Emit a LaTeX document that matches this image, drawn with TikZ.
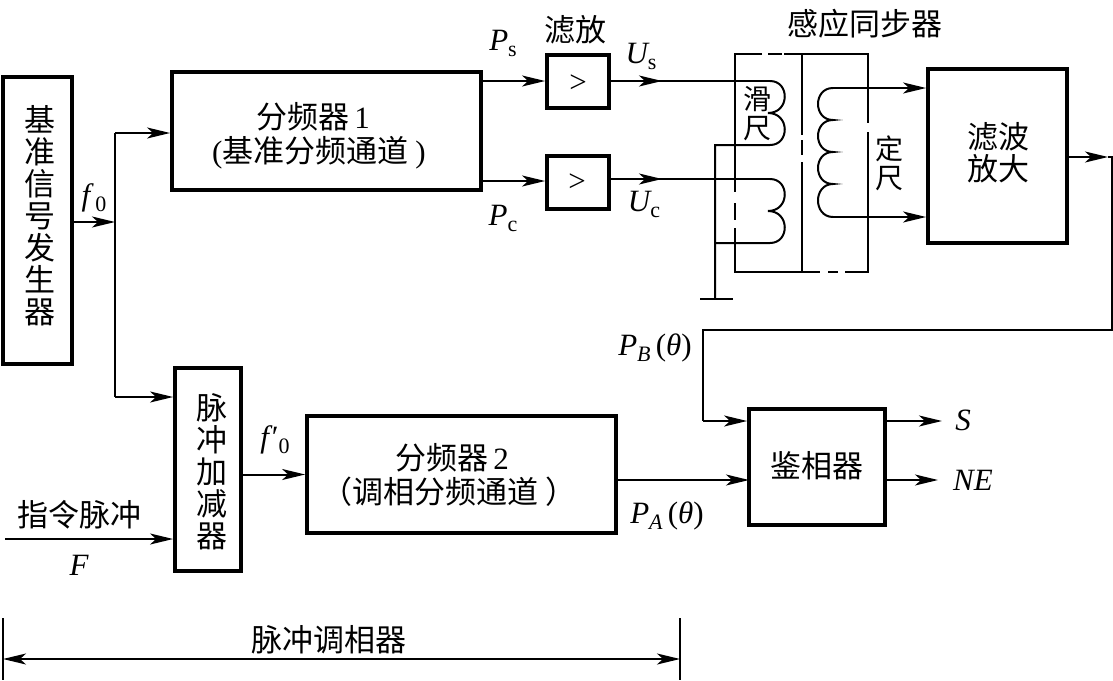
\documentclass[tikz,border=0pt]{standalone}
\usepackage{fontspec}
\setmainfont{Liberation Serif}
\newfontfamily\cjk{Noto Sans CJK SC}
\newcommand{\sbs}[1]{\raisebox{-6pt}{\fontsize{22}{22}\selectfont\upshape #1}}
\usetikzlibrary{arrows.meta,calc}
\tikzset{
  x=1pt,y=-1pt,
  wire/.style={line width=2pt,line join=miter},
  tipshape/.tip={Stealth[length=23pt,width=11pt,inset=6pt]},
  tip/.style={wire,-tipshape},
  block/.style={draw,line width=3.8pt,inner sep=0pt},
  cn/.style={inner sep=0pt,align=center,font=\cjk\fontsize{31}{32}\selectfont},
  lab/.style={inner sep=0pt,font=\fontsize{31}{31}\selectfont\itshape},
}
\begin{document}
\begin{tikzpicture}
\useasboundingbox (0,0) rectangle (1113,680);
% blocks
\node[block,minimum width=69pt,minimum height=287pt] (base) at (37.5,220.5) {};
\node[block,minimum width=309pt,minimum height=118pt] (div1) at (326.5,131) {};
\node[block,minimum width=62pt,minimum height=53pt] (amp1) at (578,81.5) {};
\node[block,minimum width=62pt,minimum height=53pt] (amp2) at (578,182.5) {};
\node[block,minimum width=139pt,minimum height=174pt] (filt) at (997.5,156) {};
\node[block,minimum width=66pt,minimum height=203pt] (adder) at (208,469.5) {};
\node[block,minimum width=309pt,minimum height=117pt] (div2) at (461.5,474.5) {};
\node[block,minimum width=136pt,minimum height=116pt] (pd) at (817,467) {};
% block texts
\node[cn] (tbase) at (40,216) {基\\准\\信\\号\\发\\生\\器};
\node[cn] (tdiv1a) at (313,117) {分频器\,{\rmfamily 1}};
\node[cn] (tdiv1b) at (319,153) {{\rmfamily (}基准分频通道 {\rmfamily )}};
\node[lab,font=\fontsize{31}{31}\selectfont\upshape] (tamp1) at (578,84) {>};
\node[lab,font=\fontsize{31}{31}\selectfont\upshape] (tamp2) at (577,183) {>};
\node[cn] (tfilt) at (998,153) {滤波\\放大};
\node[cn] (tadd) at (212,472) {脉\\冲\\加\\减\\器};
\node[cn] (tdiv2a) at (452,458) {分频器\,{\rmfamily 2}};
\node[cn] (tdiv2b) at (449,492) {（调相分频通道 ）};
\node[cn] (tpd) at (817,466) {鉴相器};
% helper coordinates
\coordinate (jn) at (115,222);
\coordinate (jtop) at (115,133);
\coordinate (jbot) at (115,397);
\coordinate (usend) at (770,81);
\coordinate (ucend) at (770,179);
\coordinate (usm) at (662,81);
\coordinate (ucm) at (662,179);
\coordinate (gnd) at (715,299);
\coordinate (gndl) at (700,299);
\coordinate (gndr) at (733,299);
\coordinate (g1) at (715,145);
\coordinate (g2) at (715,243);
\coordinate (c1) at (770,145);
\coordinate (c2) at (770,243);
\coordinate (st) at (833,88);
\coordinate (sb) at (833,217);
\coordinate (outa) at (1108,157);
\coordinate (outb) at (1112,157);
\coordinate (outc) at (1112,330);
\coordinate (outd) at (703,330);
\coordinate (oute) at (703,421);
\coordinate (cmdin) at (5,539);
\coordinate (sout) at (942,421);
\coordinate (neout) at (938,480);
\coordinate (bl) at (3,659);
\coordinate (br) at (680,659);
% left side
\draw[tip] (base.east |- jn) -- (jn);
\draw[wire] (jtop) -- (jbot);
\draw[tip] (jtop) -- (jtop -| div1.west);
\draw[tip] (jbot) -- (jbot -| adder.west);
% filter amps
\draw[tip] ($(div1.east |- amp1.west)+(0,-0.5)$) -- ($(amp1.west)+(0,-0.5)$);
\draw[tip] ($(div1.east |- amp2.west)+(0,-1.5)$) -- ($(amp2.west)+(0,-1.5)$);
\draw[wire] (amp1.east |- usm) -- (usend);
\draw[tip] (amp1.east |- usm) -- (usm);
\draw[wire] (amp2.east |- ucm) -- (ucend);
\draw[tip] (amp2.east |- ucm) -- (ucm);
% frame of the resolver
\draw[wire] (762,54) -- (735,54) -- (735,192);
\draw[wire] (735,203) -- (735,220);
\draw[wire] (735,228) -- (735,272) -- (820,272);
\draw[wire] (768,54) -- (782,54);
\draw[wire] (784,54) -- (868,54) -- (868,123);
\draw[wire] (868,132) -- (868,272) -- (845,272);
\draw[wire] (828,272) -- (838,272);
\draw[wire] (802,54) -- (802,135);
\draw[wire] (802,140) -- (802,155);
\draw[wire] (802,162) -- (802,272);
% rotor coils
\draw[wire] (usend) .. controls (790,81) and (790,113) .. (768,113) .. controls (790,113) and (790,145) .. (c1) -- (g1) -- (gnd);
\draw[wire] (ucend) .. controls (790,179) and (790,211) .. (768,211) .. controls (790,211) and (790,243) .. (c2) -- (g2);
\draw[wire] (gndl) -- (gndr);
% stator coil
\draw[wire] (st) .. controls (813,88) and (813,120) .. (833,120) .. controls (813,120) and (813,152) .. (833,152) .. controls (813,152) and (813,184) .. (833,184) .. controls (813,184) and (813,217) .. (sb);
\draw[tip] (st) -- (st -| filt.west);
\draw[tip] (sb) -- (sb -| filt.west);
% feedback
\draw[wire] (outa) -- (outb) -- (outc) -- (outd) -- (oute);
\draw[tip] (filt.east |- outa) -- (outa);
\draw[tip] (oute) -- (oute -| pd.west);
% lower row
\draw[tip] (cmdin) -- (cmdin -| adder.west);
\draw[tip] (adder.east |- div2.west) -- (div2.west);
\draw[tip] (div2.east |- 749,480) -- (749,480);
\draw[tip] (sout -| pd.east) -- (sout);
\draw[tip] (neout -| pd.east) -- (neout);
% bracket
\coordinate (bl1) at (3,618);
\coordinate (bl2) at (3,680);
\coordinate (br1) at (680,618);
\coordinate (br2) at (680,680);
\draw[wire] (bl1) -- (bl2);
\draw[wire] (br1) -- (br2);
\draw[wire,tipshape-tipshape] (bl) -- (br);
% labels
\node[cn] (tfl) at (575,30) {滤放};
\node[cn] (tres) at (865,24) {感应同步器};
\node[cn,font=\cjk\fontsize{28}{29}\selectfont] (trot) at (757,114) {滑\\尺};
\node[cn,font=\cjk\fontsize{28}{29}\selectfont] (tsta) at (889,163) {定\\尺};
\node[cn] (tcmd) at (79,515) {指令脉冲};
\node[cn] (tmod) at (329,640) {脉冲调相器};
\node[lab] (lf0) at (94,198) {f\kern5pt\sbs{0}};
\node[lab] (lps) at (503,43) {P\sbs{s}};
\node[lab] (lpc) at (503,218) {P\sbs{c}};
\node[lab] (lus) at (641,56) {U\sbs{s}};
\node[lab] (luc) at (644,204) {U\sbs{c}};
\node[lab] (lpb) at (655,348) {P\sbs{\itshape B}\,{\upshape (}θ{\upshape )}};
\node[lab] (lpa) at (667,516) {P\sbs{\itshape A}\,{\upshape (}θ{\upshape )}};
\node[lab] (lf) at (79,565) {F};
\node[lab] (lfp) at (275,440) {f\kern3pt{\upshape ′}\sbs{0}};
\node[lab] (ls) at (963,420) {S};
\node[lab] (lne) at (973,480) {NE};
\end{tikzpicture}
\end{document}
